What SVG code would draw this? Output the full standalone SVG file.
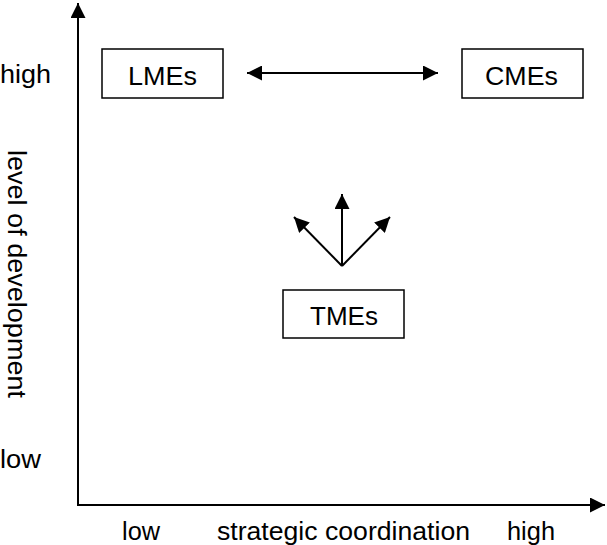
<svg xmlns="http://www.w3.org/2000/svg" width="607" height="545" viewBox="0 0 607 545">
<style>
text{font-family:"Liberation Sans",Arial,sans-serif;font-size:25px;fill:#000}
.box{fill:#fff;stroke:#000;stroke-width:1.5}
.ln{stroke:#000;stroke-width:2;fill:none}
</style>
<defs>
<marker id="ah" viewBox="0 0 15 15" refX="15" refY="7.5" markerWidth="15" markerHeight="15" markerUnits="userSpaceOnUse" orient="auto-start-reverse">
<path d="M0,0 L15,7.5 L0,15 z" fill="#000"/>
</marker>
</defs>
<rect width="607" height="545" fill="#fff"/>
<g id="axes">
<line class="ln" x1="78" y1="505" x2="78" y2="3" marker-end="url(#ah)"/>
<line class="ln" x1="77" y1="505" x2="605" y2="505" marker-end="url(#ah)"/>
</g>
<g id="labels">
<text x="0" y="83" textLength="51" lengthAdjust="spacingAndGlyphs">high</text>
<text x="0" y="468" textLength="41" lengthAdjust="spacingAndGlyphs">low</text>
<text x="122" y="540" textLength="38" lengthAdjust="spacingAndGlyphs">low</text>
<text x="217" y="540" textLength="253" lengthAdjust="spacingAndGlyphs">strategic coordination</text>
<text x="507" y="540" textLength="48" lengthAdjust="spacingAndGlyphs">high</text>
<text transform="translate(8,150) rotate(90)" x="0" y="0" textLength="248" lengthAdjust="spacingAndGlyphs">level of development</text>
</g>
<g id="LMEs">
<rect class="box" x="102" y="49" width="121" height="49"/>
<text x="128" y="85" textLength="69" lengthAdjust="spacingAndGlyphs">LMEs</text>
</g>
<g id="CMEs">
<rect class="box" x="462" y="49" width="121" height="49"/>
<text x="485" y="85" textLength="73" lengthAdjust="spacingAndGlyphs">CMEs</text>
</g>
<g id="TMEs">
<rect class="box" x="283" y="290" width="121" height="48"/>
<text x="310" y="325" textLength="68" lengthAdjust="spacingAndGlyphs">TMEs</text>
</g>
<g id="connectors">
<line class="ln" x1="247" y1="73" x2="438" y2="73" marker-start="url(#ah)" marker-end="url(#ah)"/>
<line class="ln" x1="342" y1="266" x2="342" y2="194" marker-end="url(#ah)"/>
<line class="ln" x1="342" y1="266" x2="294" y2="217" marker-end="url(#ah)"/>
<line class="ln" x1="342" y1="266" x2="390" y2="217" marker-end="url(#ah)"/>
</g>
</svg>
